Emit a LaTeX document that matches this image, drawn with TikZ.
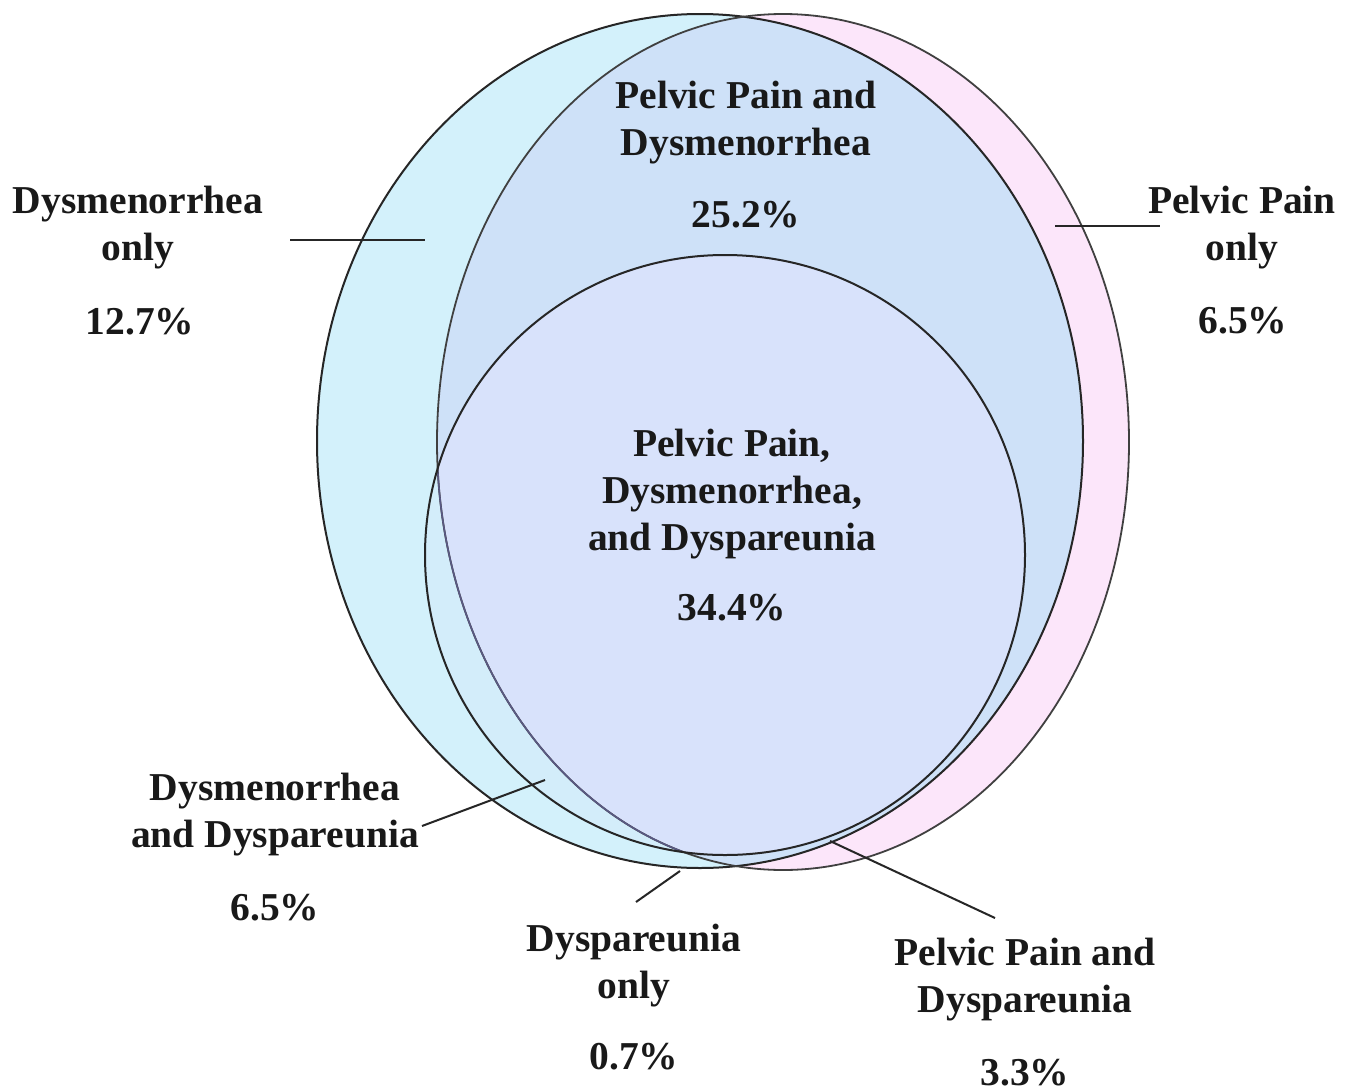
\documentclass[tikz,border=0pt]{standalone}
\usepackage{fontspec}
\setmainfont{Liberation Serif}
\begin{document}
\begin{tikzpicture}[x=1pt,y=-1pt,
  lbl/.style={font=\fontsize{39.5}{47}\selectfont\bfseries, align=center, inner sep=0pt, text=black!90},
  conn/.style={draw=black!85, line width=2pt},
  outl/.style={draw=black!85, line width=2pt}]
\definecolor{cyanfill}{HTML}{D3F1FB}
\definecolor{pinkfill}{HTML}{FCE6FA}
\definecolor{bothfill}{HTML}{CEE1F8}
\definecolor{circfill}{HTML}{D8E2FB}
\definecolor{circD}{HTML}{D3EDFA}
\definecolor{circP}{HTML}{EEE2FA}
\useasboundingbox (0,0) rectangle (1357,1092);
\fill[white] (0,0) rectangle (1357,1092);
% fills
\fill[cyanfill] (700,441) ellipse [x radius=383, y radius=427];
\fill[pinkfill] (783,442) ellipse [x radius=346, y radius=428];
\begin{scope}
  \clip (700,441) ellipse [x radius=383, y radius=427];
  \fill[bothfill] (783,442) ellipse [x radius=346, y radius=428];
\end{scope}
\begin{scope}
  \clip (725,555) circle [radius=300];
  \fill[circD] (725,555) circle [radius=300];
  \fill[circP] (783,442) ellipse [x radius=346, y radius=428];
  \clip (783,442) ellipse [x radius=346, y radius=428];
  \fill[circfill] (700,441) ellipse [x radius=383, y radius=427];
\end{scope}
% outlines
\draw[outl] (700,441) ellipse [x radius=383, y radius=427];
\draw[draw=black!75, line width=1.8pt] (783,442) ellipse [x radius=346, y radius=428];
\begin{scope}
  \clip (725,555) circle [radius=299];
  \clip (700,441) ellipse [x radius=382, y radius=426];
  \draw[draw=black!45!blue!30!gray, line width=1.6pt] (783,442) ellipse [x radius=346, y radius=428];
\end{scope}
\draw[outl] (725,555) circle [radius=300];
% labels
\node[lbl] (dyso) at (138,228) {Dysmenorrhea\\only};
\node[lbl] (dysop) at (140,322) {12.7\%};
\node[lbl] (ppd) at (746,123) {Pelvic Pain and\\Dysmenorrhea};
\node[lbl] (ppdp) at (746,215) {25.2\%};
\node[lbl] (ppo) at (1242,228) {Pelvic Pain\\only};
\node[lbl] (ppop) at (1243,321) {6.5\%};
\node[lbl] (all) at (732,494) {Pelvic Pain,\\Dysmenorrhea,\\and Dyspareunia};
\node[lbl] (allp) at (732,608) {34.4\%};
\node[lbl] (dd) at (275,815) {Dysmenorrhea\\and Dyspareunia};
\node[lbl] (ddp) at (275,908) {6.5\%};
\node[lbl] (dpo) at (634,966) {Dyspareunia\\only};
\node[lbl] (dpop) at (634,1057) {0.7\%};
\node[lbl] (ppdy) at (1025,980) {Pelvic Pain and\\Dyspareunia};
\node[lbl] (ppdyp) at (1025,1073) {3.3\%};
% connectors
\coordinate (c1a) at (290,240); \coordinate (c1b) at (425,240);
\coordinate (c2a) at (1055,226); \coordinate (c2b) at (1160,226);
\coordinate (c3a) at (422,826); \coordinate (c3b) at (545,780);
\coordinate (c4a) at (636,902); \coordinate (c4b) at (680,871);
\coordinate (c5a) at (830,841); \coordinate (c5b) at (995,918);
\draw[conn] (c1a) -- (c1b);
\draw[conn] (c2a) -- (c2b);
\draw[conn] (c3a) -- (c3b);
\draw[conn] (c4a) -- (c4b);
\draw[conn] (c5a) -- (c5b);
\end{tikzpicture}
\end{document}
